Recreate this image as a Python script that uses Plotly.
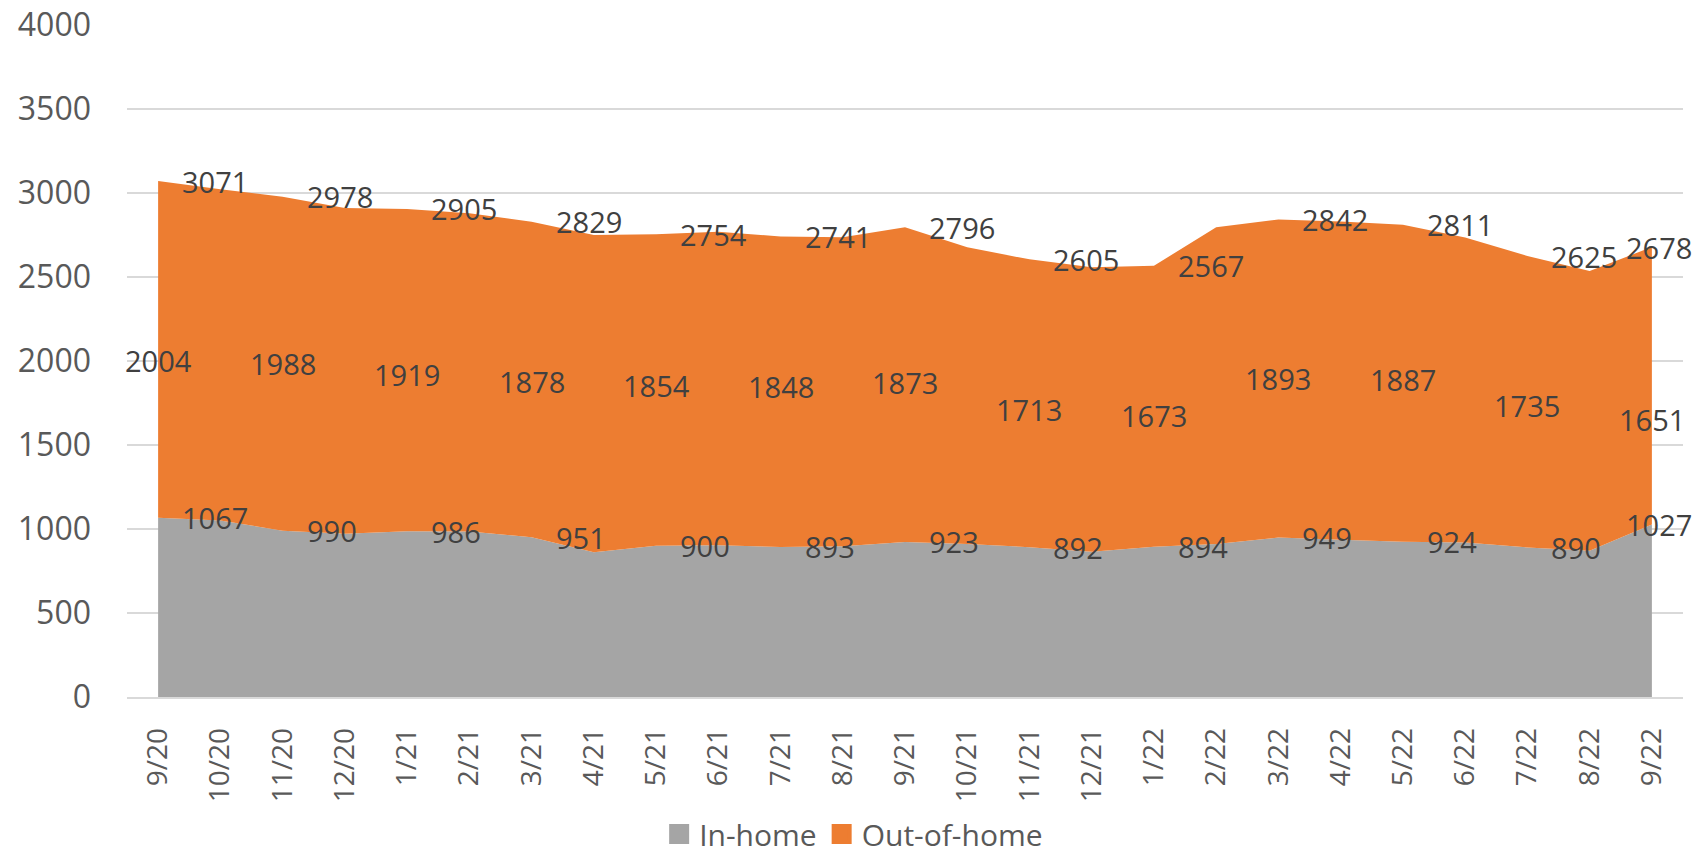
import plotly.graph_objects as go

months = ["9/20", "10/20", "11/20", "12/20", "1/21", "2/21", "3/21", "4/21", "5/21",
          "6/21", "7/21", "8/21", "9/21", "10/21", "11/21", "12/21", "1/22", "2/22",
          "3/22", "4/22", "5/22", "6/22", "7/22", "8/22", "9/22"]
in_home = [1067, 1050, 990, 972, 986, 985, 951, 862, 900, 904, 893, 898, 923,
           910, 892, 865, 894, 910, 949, 936, 924, 920, 890, 870, 1027]
out_of_home = [2004, 1973, 1988, 1938, 1919, 1895, 1878, 1888, 1854, 1866, 1848, 1839, 1873,
               1767, 1713, 1693, 1673, 1886, 1893, 1894, 1887, 1815, 1735, 1666, 1651]
label_every = 2

GREY = "#A5A5A5"
ORANGE = "#ED7D31"
LABEL = "#404040"
AXIS = "#595959"
GRID = "#D9D9D9"
FONT = "Open Sans"

fig = go.Figure()
fig.add_trace(go.Scatter(x=months, y=in_home, name="In-home", stackgroup="one",
                         mode="none", fillcolor=GREY, showlegend=False))
fig.add_trace(go.Scatter(x=months, y=out_of_home, name="Out-of-home", stackgroup="one",
                         mode="none", fillcolor=ORANGE, showlegend=False))

# square legend keys, like Excel
for name, color in [("In-home", GREY), ("Out-of-home", ORANGE)]:
    fig.add_trace(go.Scatter(x=[None], y=[None], mode="markers", name=name,
                             marker=dict(symbol="square", size=20, color=color,
                                         line=dict(color=color, width=4))))

label_font = dict(family=FONT, size=29, color=LABEL)
last = len(months) - 1
for i in range(0, len(months), label_every):
    total = in_home[i] + out_of_home[i]
    shift = 22 if i < last else -28  # last labels pulled back inside the chart
    for val in (in_home[i], total):
        fig.add_annotation(x=months[i], y=val, text=str(val), showarrow=False,
                           xanchor="left", yanchor="middle", xshift=shift, font=label_font)
    fig.add_annotation(x=months[i], y=out_of_home[i], text=str(out_of_home[i]), showarrow=False,
                       xanchor="center", yanchor="middle", font=label_font)

# page body has an 8px margin, so the figure is 8px smaller than the window
fig.update_layout(
    width=1695,
    height=847,
    paper_bgcolor="white",
    plot_bgcolor="white",
    margin=dict(l=119, r=20, t=17, b=158, autoexpand=False),
    font=dict(family=FONT, color=AXIS),
    showlegend=True,
    legend=dict(orientation="h", x=0.467, xanchor="center", y=-0.204, yanchor="middle",
                traceorder="normal", font=dict(size=30, color=AXIS), itemsizing="trace"),
    xaxis=dict(range=[-0.5, 24.5], tickangle=-90, tickfont=dict(size=28, color=AXIS),
               showgrid=False, showline=True, linecolor=GRID, linewidth=1.5,
               ticklabelstandoff=18),
    yaxis=dict(range=[0, 4000], dtick=500, tickfont=dict(size=32, color=AXIS),
               gridcolor=GRID, gridwidth=1.5, zeroline=False, ticklabelstandoff=35,
               ticklabeloverflow="allow"),
)

fig.write_html("out.html")
